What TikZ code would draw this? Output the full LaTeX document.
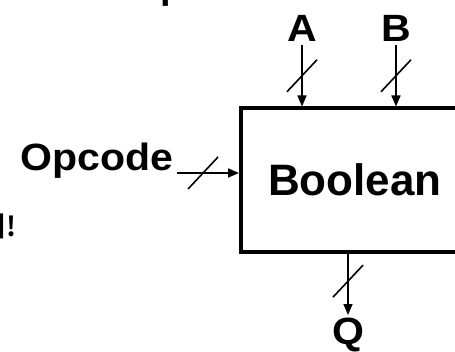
\documentclass[tikz,border=0pt]{standalone}
\usepackage{fontspec}
\setmainfont{Liberation Sans}
\newfontfamily\widefont{Liberation Sans}[FakeStretch=1.08]
\newfontfamily\krfont{Noto Sans CJK KR}[BoldFont={* Bold}]
\usetikzlibrary{arrows.meta,calc}
\tikzset{
  sig/.style={line width=1.6pt, -{Triangle[length=11pt,width=9pt]}},
  slash/.style={line width=1.6pt},
  lbl/.style={inner sep=0pt, outer sep=3.5pt, font=\widefont\bfseries\fontsize{38}{40}\selectfont},
}
\begin{document}
\begin{tikzpicture}[x=1pt,y=1pt]
  \clip (0,0) rectangle (455,351);
  % block
  \node[draw, line width=4pt, minimum width=228pt, minimum height=143pt, inner sep=0pt,
        font=\bfseries\fontsize{44}{46}\selectfont] (box) at (355,171) {Boolean};
  % inputs and output
  \node[lbl, anchor=south] (A) at (302,306) {A};
  \node[lbl, anchor=south] (B) at (396,306) {B};
  \node[lbl, anchor=base east] (opcode) at (177,180) {Opcode};
  \node[lbl, anchor=north, outer sep=3pt] (Q) at (348,36) {Q};
  \coordinate (opin) at ($(opcode.base east)+(0,-2)$);
  \draw[sig] (A.south) -- coordinate[pos=.5] (Amid) (A.south |- box.north);
  \draw[sig] (B.south) -- coordinate[pos=.5] (Bmid) (B.south |- box.north);
  \draw[sig] (opin) -- coordinate[pos=.42] (Omid) (opin -| box.west);
  \draw[sig] (Q.north |- box.south) -- coordinate[pos=.45] (Qmid) (Q.north);
  % bus widths
  \foreach \m in {Amid,Bmid,Omid,Qmid}
    \draw[slash] ($(\m)+(-15,-16)$) -- ($(\m)+(15,16)$);
  % cut-off text at the edges
  \node[inner sep=0pt, anchor=base west, font=\bfseries\fontsize{38}{40}\selectfont] (title) at (160,352) {p};
  \node[inner sep=0pt, anchor=base east, font=\krfont\bfseries\fontsize{27}{29}\selectfont] (note) at (17,114) {어!};
\end{tikzpicture}
\end{document}
